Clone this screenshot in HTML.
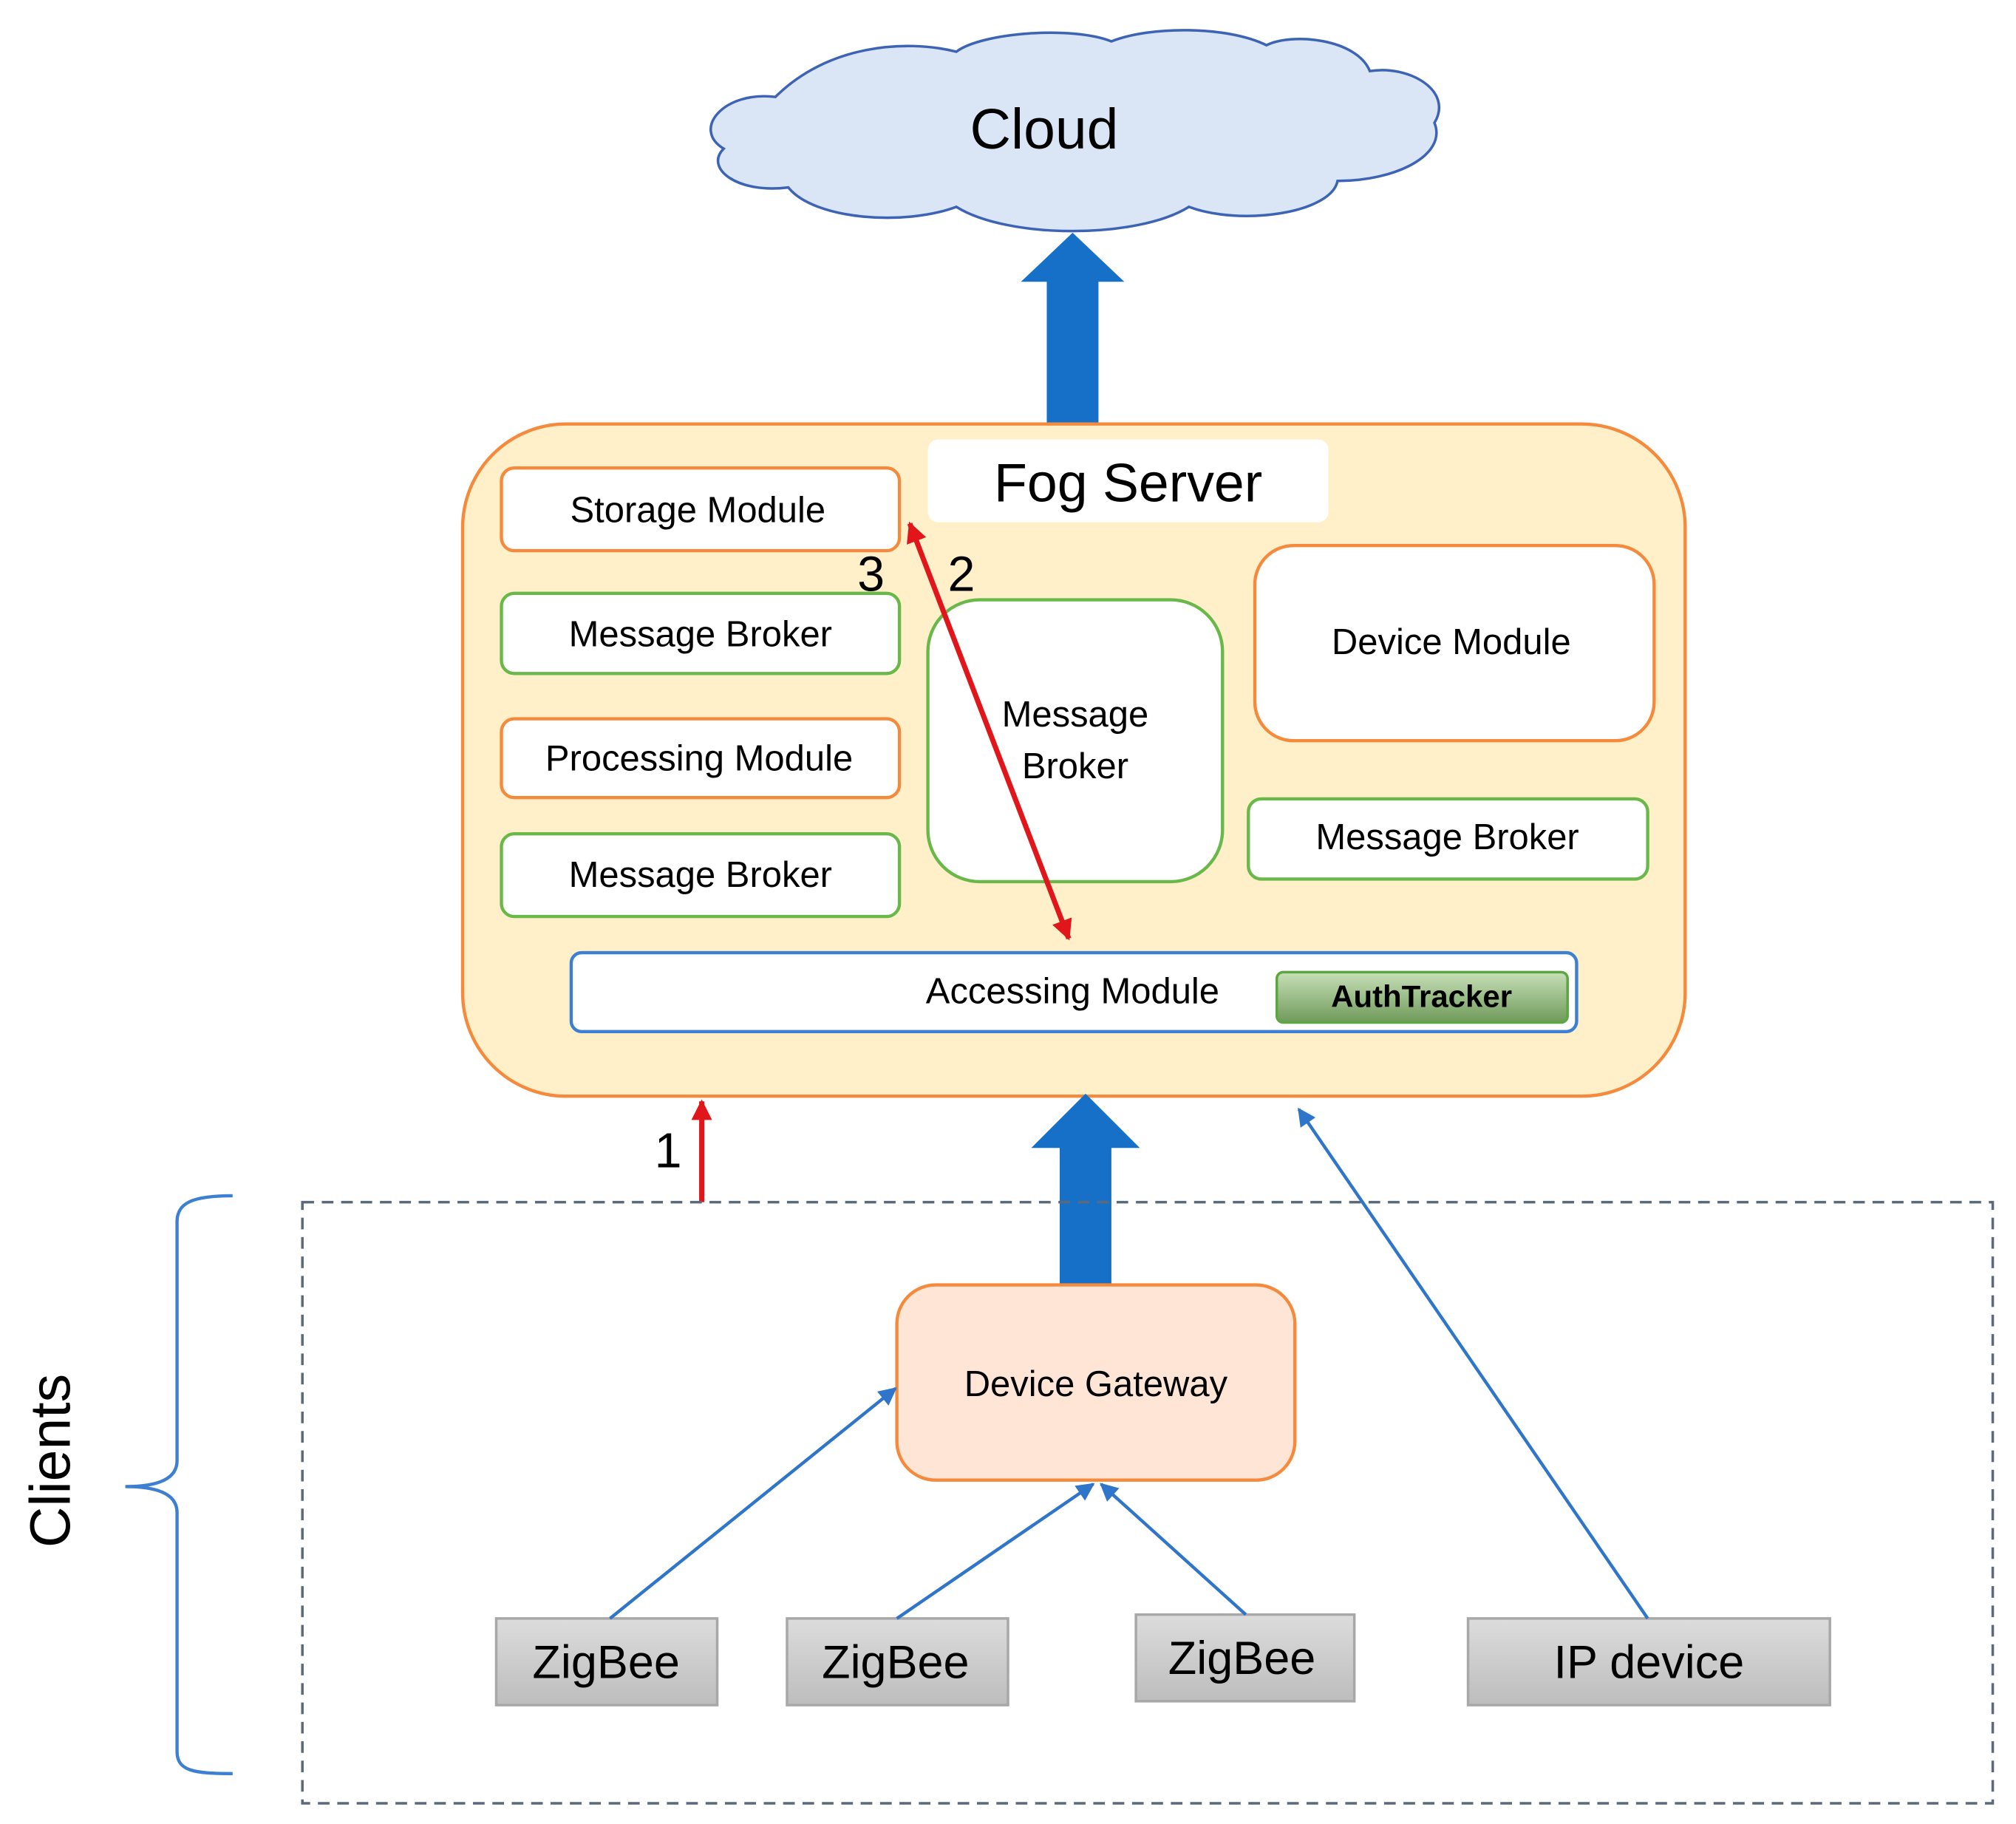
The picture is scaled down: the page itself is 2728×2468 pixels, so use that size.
<!DOCTYPE html>
<html><head><meta charset="utf-8"><style>html,body{margin:0;padding:0;background:#fff}svg{display:block}</style></head>
<body>
<svg width="2728" height="2468" viewBox="0 0 1560 1411" preserveAspectRatio="none" xmlns="http://www.w3.org/2000/svg" font-family="Liberation Sans, sans-serif">
<defs>
<linearGradient id="gz" x1="0" y1="0" x2="0" y2="1"><stop offset="0" stop-color="#dcdcdc"/><stop offset="1" stop-color="#bdbdbd"/></linearGradient>
<linearGradient id="ga" x1="0" y1="0" x2="0" y2="1"><stop offset="0" stop-color="#c8e0b8"/><stop offset="1" stop-color="#6f9a5a"/></linearGradient>
<marker id="mb" markerWidth="10" markerHeight="10" refX="9" refY="5" orient="auto" markerUnits="userSpaceOnUse"><path d="M0,0 L10,5 L0,10 Z" fill="#2f75c9"/></marker>
<marker id="mb2" viewBox="0 0 10 10" markerWidth="16" markerHeight="14" refX="9" refY="5" orient="auto" markerUnits="userSpaceOnUse"><path d="M0,0 L10,5 L0,10 Z" fill="#2f75c9"/></marker>
<marker id="mr" viewBox="0 0 10 10" markerWidth="20" markerHeight="16" refX="9" refY="5" orient="auto-start-reverse" markerUnits="userSpaceOnUse"><path d="M0,0 L10,5 L0,10 Z" fill="#e0161b"/></marker>
</defs>
<!-- cloud -->
<g fill="#dae6f6" stroke="#3d63b5" stroke-width="2">
<path d="M600,75 C560,70 535,100 560,115 C545,130 570,150 610,145 C630,170 700,175 740,160 C780,185 880,185 920,160 C960,175 1030,165 1035,140 C1080,140 1120,120 1110,95 C1125,70 1090,50 1060,55 C1050,30 1000,25 980,35 C950,20 890,20 860,32 C830,20 760,25 740,40 C700,30 640,35 600,75 Z"/>
</g>
<text x="808" y="115" font-size="44" text-anchor="middle">Cloud</text>
<!-- blue arrow up to cloud -->
<path d="M810,328 L810,218 L790,218 L830,180 L870,218 L850,218 L850,328 Z" fill="#1670c8"/>
<!-- fog server -->
<rect x="358" y="328" width="946" height="520" rx="80" fill="#fff0c9" stroke="#f58a3c" stroke-width="2.5"/>
<rect x="718" y="340" width="310" height="64" rx="8" fill="#fff"/>
<text x="873" y="388" font-size="42" text-anchor="middle">Fog Server</text>
<g font-size="28" text-anchor="middle" stroke-width="2.5">
<rect x="388" y="362" width="308" height="64" rx="10" fill="#fff" stroke="#f58a3c"/>
<text x="540" y="404">Storage Module</text>
<rect x="388" y="459" width="308" height="62" rx="10" fill="#fff" stroke="#6ab84a"/>
<text x="542" y="500">Message Broker</text>
<rect x="388" y="556" width="308" height="61" rx="10" fill="#fff" stroke="#f58a3c"/>
<text x="541" y="596">Processing Module</text>
<rect x="388" y="645" width="308" height="64" rx="10" fill="#fff" stroke="#6ab84a"/>
<text x="542" y="686">Message Broker</text>
<rect x="718" y="464" width="228" height="218" rx="40" fill="#fff" stroke="#6ab84a"/>
<text x="832" y="562">Message</text>
<text x="832" y="602">Broker</text>
<rect x="971" y="422" width="309" height="151" rx="30" fill="#fff" stroke="#f58a3c"/>
<text x="1123" y="506">Device Module</text>
<rect x="966" y="618" width="309" height="62" rx="10" fill="#fff" stroke="#6ab84a"/>
<text x="1120" y="657">Message Broker</text>
<rect x="442" y="737" width="778" height="61" rx="8" fill="#fff" stroke="#3d7fd0"/>
<text x="830" y="776">Accessing Module</text>
<rect x="988" y="752" width="225" height="39" rx="5" fill="url(#ga)" stroke="#5da642" stroke-width="2"/>
<text x="1100" y="779" font-size="24" font-weight="bold">AuthTracker</text>
</g>
<!-- red arrows -->
<line x1="704" y1="405" x2="827" y2="726" stroke="#e0161b" stroke-width="4" marker-start="url(#mr)" marker-end="url(#mr)"/>
<text x="674" y="457" font-size="38" text-anchor="middle">3</text>
<text x="744" y="457" font-size="38" text-anchor="middle">2</text>
<line x1="543" y1="930" x2="543" y2="852" stroke="#e0161b" stroke-width="4" marker-end="url(#mr)"/>
<text x="517" y="903" font-size="38" text-anchor="middle">1</text>
<!-- blue arrow up to fog -->
<path d="M820,993 L820,888 L798,888 L840,846 L882,888 L860,888 L860,993 Z" fill="#1670c8"/>
<!-- dashed client area -->
<rect x="234" y="930" width="1308" height="465" fill="none" stroke="#5a6a7a" stroke-width="2" stroke-dasharray="9,6"/>
<path d="M180,925 C150,925 137,930 137,945 L137,1130 C137,1145 120,1150 97,1150 C120,1150 137,1155 137,1170 L137,1355 C137,1370 150,1372 180,1372" fill="none" stroke="#3d7fd0" stroke-width="2.5"/>
<text transform="translate(54,1130) rotate(-90)" font-size="44" text-anchor="middle">Clients</text>
<!-- device gateway -->
<rect x="694" y="994" width="308" height="151" rx="30" fill="#fee5d6" stroke="#f58a3c" stroke-width="2.5"/>
<text x="848" y="1080" font-size="28" text-anchor="middle">Device Gateway</text>
<!-- devices -->
<g font-size="36" text-anchor="middle" stroke="#a8a8a8" stroke-width="2">
<rect x="384" y="1252" width="171" height="67" fill="url(#gz)"/>
<rect x="609" y="1252" width="171" height="67" fill="url(#gz)"/>
<rect x="879" y="1249" width="169" height="67" fill="url(#gz)"/>
<rect x="1136" y="1252" width="280" height="67" fill="url(#gz)"/>
</g>
<g font-size="36" text-anchor="middle">
<text x="469" y="1298">ZigBee</text>
<text x="693" y="1298">ZigBee</text>
<text x="961" y="1295">ZigBee</text>
<text x="1276" y="1298">IP device</text>
</g>
<!-- thin blue arrows -->
<g stroke="#2f75c9" stroke-width="2.5" fill="none">
<line x1="472" y1="1252" x2="693" y2="1074" marker-end="url(#mb2)"/>
<line x1="694" y1="1252" x2="846" y2="1148" marker-end="url(#mb2)"/>
<line x1="964" y1="1249" x2="852" y2="1148" marker-end="url(#mb2)"/>
<line x1="1275" y1="1252" x2="1005" y2="858" marker-end="url(#mb2)"/>
</g>
</svg>
</body></html>
